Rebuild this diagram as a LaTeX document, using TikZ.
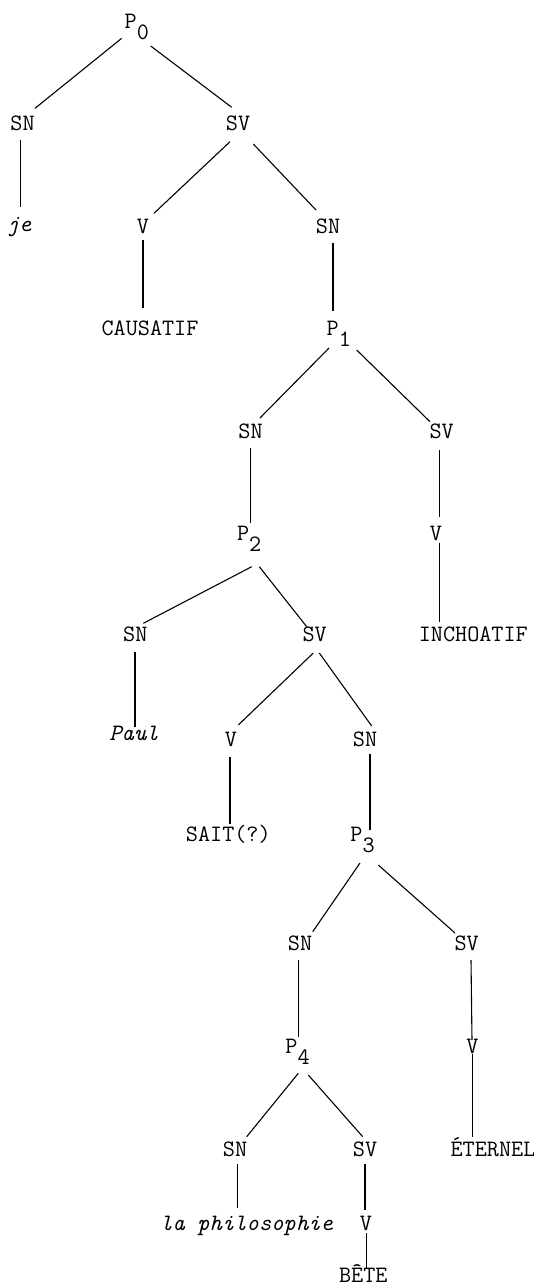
\documentclass[tikz,border=0pt]{standalone}
\begin{document}
\tikzset{
  lbl/.style={anchor=base, inner sep=0pt, font=\fontsize{23.5}{28}\selectfont\ttfamily},
  itl/.style={lbl, font=\fontsize{23.5}{28}\selectfont\ttfamily\itshape},
  pl/.style={lbl, anchor=base west},
  edge/.style={line width=1.1pt}
}
\newcommand{\Pnode}[1]{P\raisebox{-11pt}{#1}}
\begin{tikzpicture}[x=1pt,y=-1pt]
\fill[white] (0,0) rectangle (534,1286);
\useasboundingbox (0,0) rectangle (534,1286);
% nodes
\node[pl] (P0) at (124.5,28) {\Pnode{0}};
\node[lbl] (SNa) at (22.5,130) {SN};
\node[lbl] (SVa) at (238,130) {SV};
\node[itl] (je) at (19,231) {je};
\node[lbl] (Va) at (143,233) {V};
\node[lbl] (SNb) at (328,233) {SN};
\node[lbl] (CAUS) at (150,335) {CAUSATIF};
\node[pl] (P1) at (326.5,335) {\Pnode{1}};
\node[lbl] (SNc) at (250.5,438) {SN};
\node[lbl] (SVc) at (441.7,438) {SV};
\node[pl] (P2) at (236.8,540) {\Pnode{2}};
\node[lbl] (Vc) at (436,540) {V};
\node[lbl] (SNd) at (135.3,641) {SN};
\node[lbl] (SVd) at (314.7,641) {SV};
\node[lbl] (INCH) at (473.3,641) {INCHOATIF};
\node[itl] (Paul) at (134,740) {Paul};
\node[lbl] (Vd) at (231,746) {V};
\node[lbl] (SNe) at (365,746) {SN};
\node[lbl] (SAIT) at (228.3,841) {SAIT(?)};
\node[pl] (P3) at (350.2,841) {\Pnode{3}};
\node[lbl] (SNf) at (300,950) {SN};
\node[lbl] (SVf) at (466.7,950) {SV};
\node[pl] (P4) at (285.2,1053) {\Pnode{4}};
\node[lbl] (Vf) at (472.5,1053) {V};
\node[lbl] (SNg) at (235,1156.7) {SN};
\node[lbl] (SVg) at (365,1156.7) {SV};
\node[lbl] (ETER) at (493,1156.7) {ÉTERNEL};
\node[itl] (phil) at (246.7,1230.5) {la philosophie};
\node[lbl] (Vg) at (366,1230.5) {V};
\node[lbl] (BETE) at (363.3,1282) {BÊTE};
% edges
\draw[edge] ([shift={(-2.8,10.3)}]P0.base west) -- ([shift={(12.5,-21.7)}]SNa.base);
\draw[edge] ([shift={(26.2,18)}]P0.base west) -- ([shift={(-6.3,-22.7)}]SVa.base);
\draw[edge] ([shift={(-2,10)}]SNa.base) -- ([shift={(1.5,-24)}]je.base);
\draw[edge] ([shift={(-8,11.7)}]SVa.base) -- ([shift={(11,-19.7)}]Va.base);
\draw[edge] ([shift={(15.3,14)}]SVa.base) -- ([shift={(-12,-23)}]SNb.base);
\draw[edge] ([shift={(0,7)}]Va.base) -- ([shift={(-7,-27)}]CAUS.base);
\draw[edge] ([shift={(5,10)}]SNb.base) -- ([shift={(6.5,-24)}]P1.base west);
\draw[edge] ([shift={(2.5,13)}]P1.base west) -- ([shift={(9.5,-20)}]SNc.base);
\draw[edge] ([shift={(30.2,15)}]P1.base west) -- ([shift={(-11.7,-16.3)}]SVc.base);
\draw[edge] ([shift={(0.2,10)}]SNc.base) -- ([shift={(13.9,-17)}]P2.base west);
\draw[edge] ([shift={(-2.4,12)}]SVc.base) -- ([shift={(3.3,-23)}]Vc.base);
\draw[edge] ([shift={(3.3,3)}]Vc.base) -- ([shift={(-34,-19)}]INCH.base);
\draw[edge] ([shift={(14.9,26.7)}]P2.base west) -- ([shift={(8,-17.7)}]SNd.base);
\draw[edge] ([shift={(22.5,26.7)}]P2.base west) -- ([shift={(-8,-14.3)}]SVd.base);
\draw[edge] ([shift={(-0.3,11)}]SNd.base) -- ([shift={(1,-13)}]Paul.base);
\draw[edge] ([shift={(-1.4,12)}]SVd.base) -- ([shift={(7.3,-21)}]Vd.base);
\draw[edge] ([shift={(4.6,12)}]SVd.base) -- ([shift={(6.7,-20)}]SNe.base);
\draw[edge] ([shift={(-1,11)}]Vd.base) -- ([shift={(1.7,-17)}]SAIT.base);
\draw[edge] ([shift={(5,8)}]SNe.base) -- ([shift={(19.8,-11)}]P3.base west);
\draw[edge] ([shift={(9.8,22)}]P3.base west) -- ([shift={(12.7,-18.3)}]SNf.base);
\draw[edge] ([shift={(28.1,24)}]P3.base west) -- ([shift={(-11.7,-17)}]SVf.base);
\draw[edge] ([shift={(-1.7,10)}]SNf.base) -- ([shift={(13.1,-16.3)}]P4.base west);
\draw[edge] ([shift={(4.3,10)}]SVf.base) -- ([shift={(-0.5,-13)}]Vf.base);
\draw[edge] ([shift={(0,1)}]Vf.base) -- ([shift={(-20.5,-19.7)}]ETER.base);
\draw[edge] ([shift={(13.1,20.3)}]P4.base west) -- ([shift={(11.7,-20)}]SNg.base);
\draw[edge] ([shift={(23.1,22)}]P4.base west) -- ([shift={(-2.3,-20)}]SVg.base);
\draw[edge] ([shift={(2.3,7.3)}]SNg.base) -- ([shift={(-9.4,-22.2)}]phil.base);
\draw[edge] ([shift={(0,7.3)}]SVg.base) -- ([shift={(-1,-20.5)}]Vg.base);
\draw[edge] ([shift={(0.7,2.5)}]Vg.base) -- ([shift={(3.4,-14)}]BETE.base);
\end{tikzpicture}
\end{document}
